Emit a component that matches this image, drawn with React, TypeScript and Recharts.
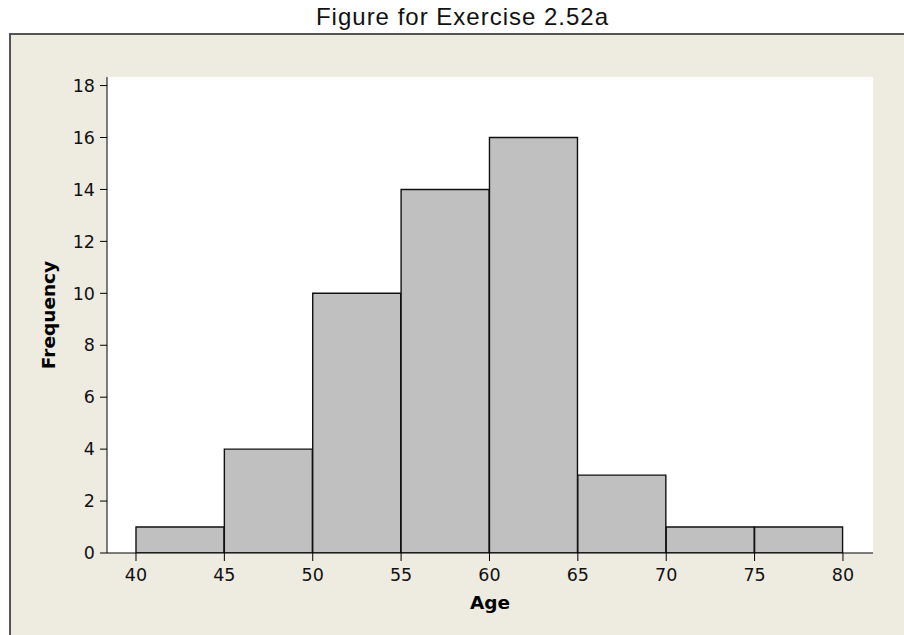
import React from "react";
import {
  BarChart,
  Bar,
  XAxis,
  YAxis,
  CartesianGrid,
  Label,
} from "recharts";

// histogram bins (age), bin width 5
const binStarts = [40, 45, 50, 55, 60, 65, 70, 75];
const frequencies = [1, 4, 10, 14, 16, 3, 1, 1];
const xTicks = [40, 45, 50, 55, 60, 65, 70, 75, 80];
const yTicks = [0, 2, 4, 6, 8, 10, 12, 14, 16, 18];

const BIN_WIDTH = 5;
const TICK_FONT = "'DejaVu Sans', Verdana, sans-serif";

const data = binStarts.map((start, i) => ({
  mid: start + BIN_WIDTH / 2,
  freq: frequencies[i],
}));

export default function App() {
  return (
    <div
      style={{
        position: "absolute",
        left: 0,
        top: 0,
        width: 904,
        height: 635,
        background: "#ffffff",
        overflow: "hidden",
      }}
    >
      <div
        style={{
          position: "absolute",
          left: 0,
          top: 0,
          width: 925,
          textAlign: "center",
          fontFamily: "'Liberation Sans', Arial, sans-serif",
          fontSize: 24,
          letterSpacing: 1,
          lineHeight: "33px",
          color: "#111",
        }}
      >
        Figure for Exercise 2.52a
      </div>
      <div
        style={{
          position: "absolute",
          left: 9,
          top: 33,
          width: 895,
          height: 602,
          boxSizing: "border-box",
          background: "#eeebe1",
          borderTop: "2px solid #555",
          borderLeft: "2px solid #555",
        }}
      />
      <div style={{ position: "absolute", left: 0, top: 0 }}>
        <BarChart
          width={904}
          height={635}
          data={data}
          margin={{ top: 77, right: 31, bottom: 22, left: 0 }}
          barCategoryGap={0}
          barGap={0}
        >
          <CartesianGrid
            fill="#ffffff"
            stroke="none"
            horizontal={false}
            vertical={false}
          />
          <XAxis
            type="number"
            dataKey="mid"
            domain={[38.36, 81.7]}
            ticks={xTicks}
            allowDataOverflow
            interval={0}
            height={60}
            tickSize={8}
            tickMargin={8}
            axisLine={{ stroke: "#000", strokeWidth: 1 }}
            tickLine={{ stroke: "#000", strokeWidth: 1 }}
            tick={{ fill: "#111", fontSize: 17.5, fontFamily: TICK_FONT }}
          >
            <Label
              value="Age"
              position="insideBottom"
              offset={4}
              style={{
                fill: "#000",
                fontSize: 18.5,
                fontWeight: "bold",
                fontFamily: TICK_FONT,
              }}
            />
          </XAxis>
          <YAxis
            type="number"
            domain={[0, 18.33]}
            ticks={yTicks}
            allowDataOverflow
            interval={0}
            width={107}
            tickSize={7}
            tickMargin={5}
            axisLine={{ stroke: "#000", strokeWidth: 1 }}
            tickLine={{ stroke: "#000", strokeWidth: 1 }}
            tick={{ fill: "#111", fontSize: 17.5, fontFamily: TICK_FONT }}
          >
            <Label
              content={({ viewBox }: any) => {
                const cy = viewBox.y + viewBox.height / 2;
                return (
                  <text
                    x={55}
                    y={cy}
                    transform={`rotate(-90, 55, ${cy})`}
                    textAnchor="middle"
                    fill="#000"
                    fontSize={18.5}
                    fontWeight="bold"
                    fontFamily={TICK_FONT}
                  >
                    Frequency
                  </text>
                );
              }}
            />
          </YAxis>
          <Bar
            dataKey="freq"
            fill="#c0c0c0"
            stroke="#111"
            strokeWidth={1.4}
            isAnimationActive={false}
          />
        </BarChart>
      </div>
    </div>
  );
}
